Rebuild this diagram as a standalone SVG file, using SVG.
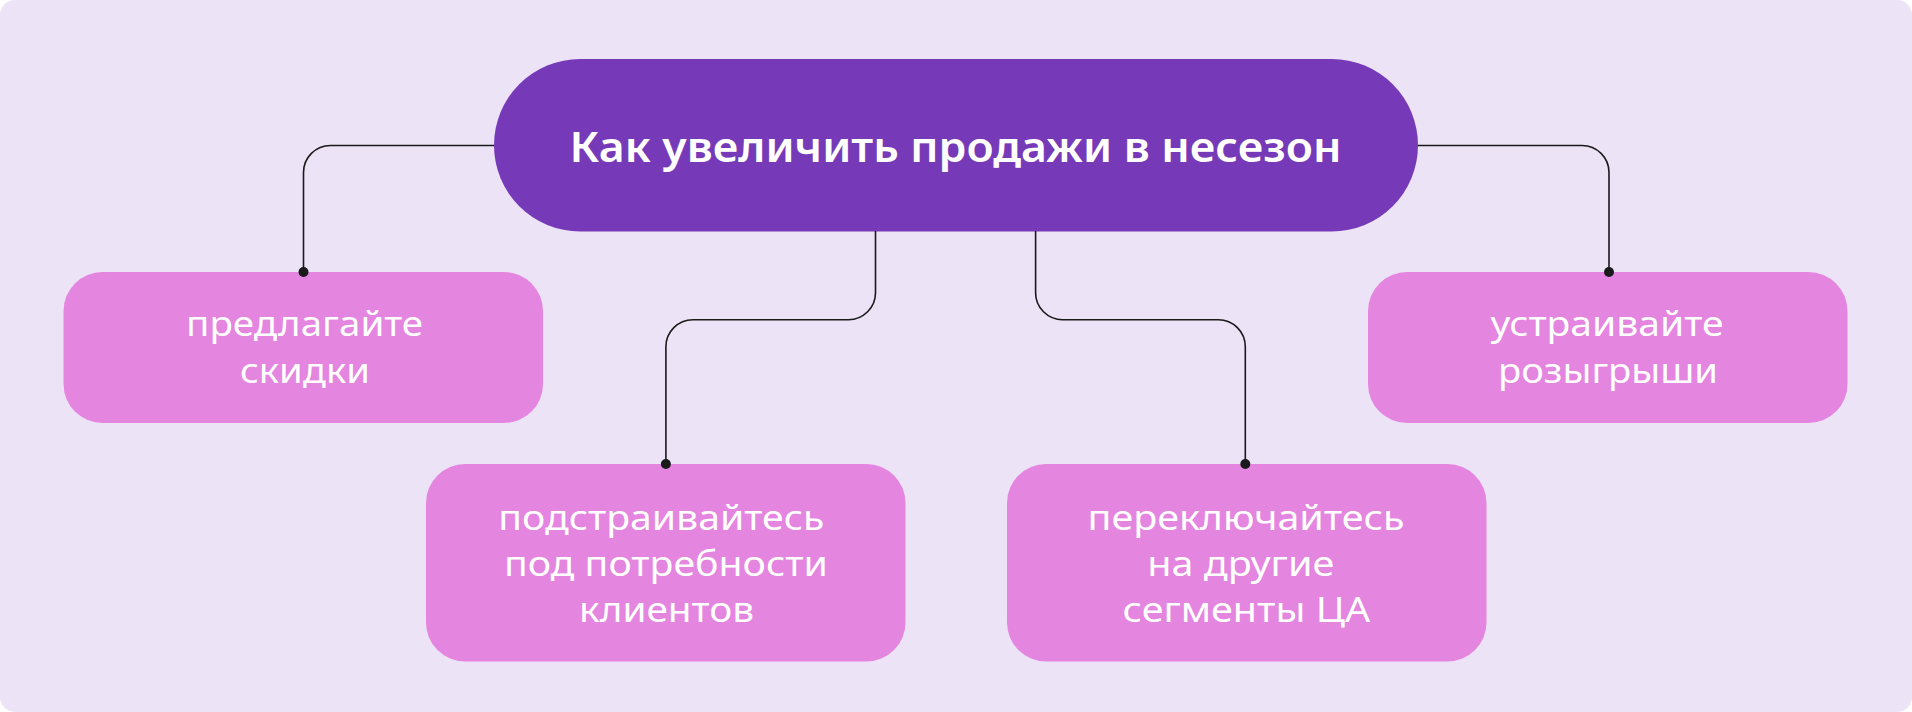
<svg xmlns="http://www.w3.org/2000/svg" width="1912" height="712" viewBox="0 0 1912 712">
  <style>
    .bg { fill: #ECE3F7; }
    .pill { fill: #763AB8; }
    .box { fill: #E485E0; }
    .title { font-family: "Noto Sans", "Open Sans", sans-serif; font-weight: 600; font-size: 42px; fill: #FFFFFF; }
    .lbl { font-family: "Noto Sans", "Open Sans", sans-serif; font-weight: 400; font-size: 35px; fill: #FFFFFF; }
    .conn { fill: none; stroke: #1A1A1A; stroke-width: 1.6; }
    .dot { fill: #1A1A1A; }
  </style>
  <rect class="bg" x="0" y="0" width="1912" height="712" rx="15" ry="15"/>

  <g id="main">
    <rect class="pill" x="494" y="59" width="924" height="172.5" rx="86.25" ry="86.25"/>
    <text class="title" x="955.5" y="161.7" text-anchor="middle" textLength="772" lengthAdjust="spacingAndGlyphs">Как увеличить продажи в несезон</text>
  </g>

  <g id="node-discounts">
    <rect class="box" x="63.5" y="272" width="479.5" height="151" rx="39" ry="39"/>
    <text class="lbl" x="304.6" y="335.7" text-anchor="middle" textLength="237" lengthAdjust="spacingAndGlyphs">предлагайте</text>
    <text class="lbl" x="305" y="383.3" text-anchor="middle" textLength="130" lengthAdjust="spacingAndGlyphs">скидки</text>
  </g>

  <g id="node-draws">
    <rect class="box" x="1368" y="272" width="479.5" height="151" rx="39" ry="39"/>
    <text class="lbl" x="1607" y="335.7" text-anchor="middle" textLength="233" lengthAdjust="spacingAndGlyphs">устраивайте</text>
    <text class="lbl" x="1608" y="383.3" text-anchor="middle" textLength="220" lengthAdjust="spacingAndGlyphs">розыгрыши</text>
  </g>

  <g id="node-needs">
    <rect class="box" x="426" y="464" width="479.5" height="197.5" rx="39" ry="39"/>
    <text class="lbl" x="661.3" y="530" text-anchor="middle" textLength="326" lengthAdjust="spacingAndGlyphs">подстраивайтесь</text>
    <text class="lbl" x="665.9" y="576" text-anchor="middle" textLength="324" lengthAdjust="spacingAndGlyphs">под потребности</text>
    <text class="lbl" x="666.6" y="621.7" text-anchor="middle" textLength="175" lengthAdjust="spacingAndGlyphs">клиентов</text>
  </g>

  <g id="node-segments">
    <rect class="box" x="1007" y="464" width="479.5" height="197.5" rx="39" ry="39"/>
    <text class="lbl" x="1246" y="530" text-anchor="middle" textLength="317" lengthAdjust="spacingAndGlyphs">переключайтесь</text>
    <text class="lbl" x="1240.7" y="576" text-anchor="middle" textLength="187" lengthAdjust="spacingAndGlyphs">на другие</text>
    <text class="lbl" x="1246.4" y="621.7" text-anchor="middle" textLength="247.6" lengthAdjust="spacingAndGlyphs">сегменты ЦА</text>
  </g>

  <g id="connectors">
    <path class="conn" d="M494,145.5 H330.5 A27,27 0 0 0 303.5,172.5 V272"/>
    <path class="conn" d="M1418,145.5 H1582 A27,27 0 0 1 1609,172.5 V272"/>
    <path class="conn" d="M875.5,231 V292.7 A27,27 0 0 1 848.5,319.7 H692.9 A27,27 0 0 0 665.9,346.7 V464"/>
    <path class="conn" d="M1035.6,231 V292.7 A27,27 0 0 0 1062.6,319.7 H1218.3 A27,27 0 0 1 1245.3,346.7 V464"/>
    <circle class="dot" cx="303.5" cy="272" r="5"/>
    <circle class="dot" cx="1609" cy="272" r="5"/>
    <circle class="dot" cx="665.9" cy="464" r="5"/>
    <circle class="dot" cx="1245.3" cy="464" r="5"/>
  </g>
</svg>
